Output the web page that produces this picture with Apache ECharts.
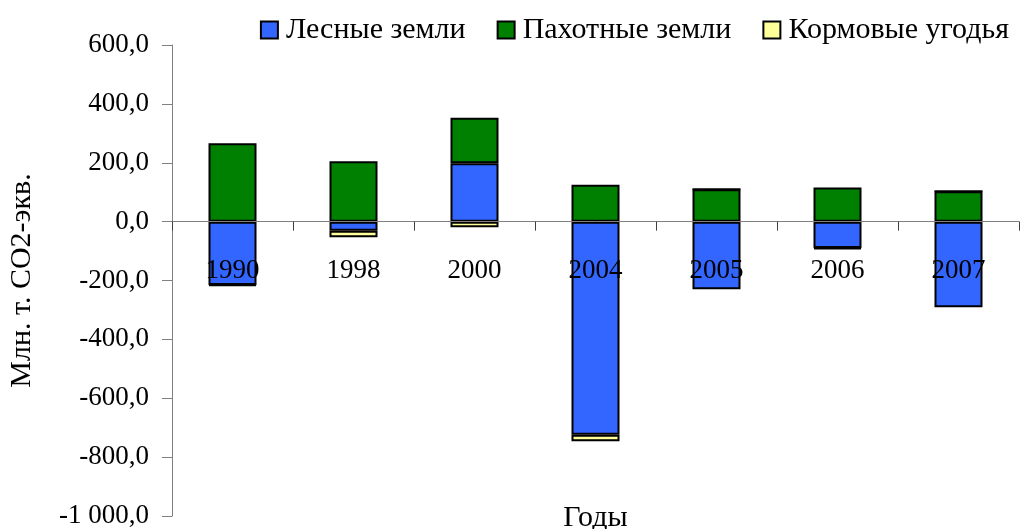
<!DOCTYPE html>
<html>
<head>
<meta charset="utf-8">
<script src="https://cdn.jsdelivr.net/npm/echarts@6/dist/echarts.min.js"></script>
<style>
  html, body { margin: 0; padding: 0; background: #fff; }
  #main { width: 1021px; height: 529px; }
</style>
</head>
<body>
<div id="main"></div>
<script>
const years = ['1990', '1998', '2000', '2004', '2005', '2006', '2007']
const forestLand = [-215, -31, 198, -724, -230, -90, -291]
const cropLand = [266, 205, 155, 125, 110, 116, 103]
const grassLand = [-3, -22, -19, -22, 0, -3, 0]

const font = 'Liberation Serif'

function fmt (v) {
  const s = Math.abs(v).toFixed(1).replace('.', ',')
  const parts = s.split(',')
  const intPart = parts[0].replace(/\B(?=(\d{3})+(?!\d))/g, ' ')
  return (v < 0 ? '-' : '') + intPart + ',' + parts[1]
}

// grid: top 45, bottom 516 -> zero line sits at 45 + 600 / 1600 * 471
const gridTop = 45
const gridBottom = 516
const zeroY = gridTop + (gridBottom - gridTop) * 600 / 1600

const chart = echarts.init(document.getElementById('main'))
chart.setOption({
  animation: false,
  textStyle: { fontFamily: font, color: '#000' },
  legend: {
    top: 10,
    right: 7,
    icon: 'rect',
    itemWidth: 17,
    itemHeight: 17,
    itemGap: 31,
    textStyle: { fontFamily: font, fontSize: 30, color: '#000', padding: [0, 0, 0, 3] },
    data: ['Лесные земли', 'Пахотные земли', 'Кормовые угодья']
  },
  grid: { left: 172, right: 2, top: gridTop, bottom: 529 - gridBottom, containLabel: false, outerBoundsMode: 'none' },
  xAxis: {
    type: 'category',
    data: years,
    z: 10,
    offset: -(gridBottom - zeroY),
    name: 'Годы',
    nameLocation: 'middle',
    nameGap: 281,
    nameTextStyle: { fontFamily: font, fontSize: 30, color: '#000' },
    axisLine: { onZero: false, lineStyle: { color: '#808080', width: 1 } },
    axisTick: { show: true, interval: 0, inside: false, length: 9, lineStyle: { color: '#404040', width: 1 } },
    axisLabel: { margin: 36, fontFamily: font, fontSize: 27, color: '#000' }
  },
  yAxis: {
    type: 'value',
    min: -1000,
    max: 600,
    interval: 200,
    name: 'Млн. т. СО2-экв.',
    nameLocation: 'middle',
    nameGap: 135,
    nameTextStyle: { fontFamily: font, fontSize: 30, color: '#000' },
    splitLine: { show: false },
    axisLine: { show: true, lineStyle: { color: '#808080' } },
    axisTick: { show: true, length: 10, lineStyle: { color: '#808080' } },
    axisLabel: { margin: 23, fontFamily: font, fontSize: 27, color: '#000', formatter: fmt, hideOverlap: false }
  },
  series: [
    {
      name: 'Лесные земли',
      type: 'bar',
      stack: 'total',
      barWidth: 48,
      data: forestLand,
      itemStyle: { color: '#3366FF', borderColor: '#000', borderWidth: 2 }
    },
    {
      name: 'Пахотные земли',
      type: 'bar',
      stack: 'total',
      barWidth: 48,
      data: cropLand,
      itemStyle: { color: '#008000', borderColor: '#000', borderWidth: 2 }
    },
    {
      name: 'Кормовые угодья',
      type: 'bar',
      stack: 'total',
      barWidth: 48,
      data: grassLand,
      itemStyle: { color: '#FFFF99', borderColor: '#000', borderWidth: 2 }
    }
  ]
})
</script>
</body>
</html>
